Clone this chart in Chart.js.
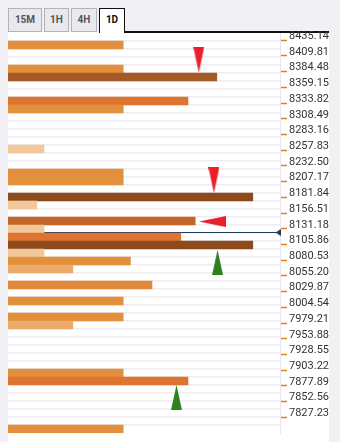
<!DOCTYPE html>
<html>
<head>
<meta charset="utf-8">
<script src="https://cdn.jsdelivr.net/npm/chart.js@4.4.0/dist/chart.umd.min.js"></script>
<style>
    body { margin: 0; width: 340px; height: 442px; overflow: hidden; background: #f0f0f5; position: relative; font-family: Roboto, sans-serif; }
    #panel { position: absolute; left: 8px; top: 32px; width: 321px; height: 410px; background: #fff; }
    .tab { position: absolute; top: 8px; height: 24px; box-sizing: border-box; border: 1px solid #b4b4bc; background: #e8e8ee;
           font: bold 10px Roboto, sans-serif; color: #555; text-align: center; line-height: 22px; }
    .tab.active { background: #fff; border: 1.5px solid #111; border-bottom: none; color: #111; height: 25px; }
    #tabLine { position: absolute; left: 124px; top: 31px; width: 205px; height: 1.5px; background: #111; }
    #wrap { position: absolute; left: 0; top: 20px; }
</style>
</head>
<body>
<div id="panel"></div>
<div class="tab" style="left:8px;width:34px">15M</div>
<div class="tab" style="left:44px;width:25px">1H</div>
<div class="tab" style="left:71px;width:26px">4H</div>
<div class="tab active" style="left:99px;width:26px">1D</div>
<div id="tabLine"></div>
<div id="wrap"><canvas id="miGrafico" width="330" height="422"></canvas></div>
<script>
// one value per row, top row first (null = no confluence)
const barValues = [
    null, 16, null, null, 16, 29, null, null, 25, 16,
    null, null, null, null, 5, null, null, 16, 16, null,
    34, 4, null, 26, 5, 24, 34, 5, 17, 9,
    null, 20, null, 16, null, 16, 9, null, null, null,
    null, null, 16, 25, null, null, null, null, null, 16
];
const tickLabels = [
    8435.14, 8409.81, 8384.48, 8359.15, 8333.82, 8308.49, 8283.16, 8257.83, 8232.50,
    8207.17, 8181.84, 8156.51, 8131.18, 8105.86, 8080.53, 8055.20, 8029.87, 8004.54,
    7979.21, 7953.88, 7928.55, 7903.22, 7877.89, 7852.56, 7827.23
];
const priceTop = 8446.74;
const priceBottom = 7802.10;
const currentPrice = 8125.23;
const xMax = 37.78;

// signal arrows: x = strength, y = price
const redDown = [{x: 26.5, y: 8403.71}, {x: 28.6, y: 8209.51}];
const redLeft = [{x: 28.4, y: 8142.95}];
const greenUp = [{x: 29.1, y: 8076.88}, {x: 23.4, y: 7859.31}];

function barColor(v) {
    if (v <= 5) return '#f2c89a';
    if (v <= 9) return '#ebaa6a';
    if (v <= 17) return '#e3903c';
    if (v <= 20) return '#e2883a';
    if (v <= 25) return '#de7430';
    if (v <= 26) return '#c4652a';
    if (v <= 29) return '#a55a26';
    return '#8c4a1d';
}

function makeTriangle(w, h, color, dir) {
    const c = document.createElement('canvas');
    c.width = w;
    c.height = h;
    const g = c.getContext('2d');
    g.fillStyle = color;
    g.beginPath();
    if (dir === 'down') { g.moveTo(0, 0); g.lineTo(w, 0); g.lineTo(w / 2, h); }
    else if (dir === 'up') { g.moveTo(w / 2, 0); g.lineTo(w, h); g.lineTo(0, h); }
    else { g.moveTo(0, h / 2); g.lineTo(w, 0); g.lineTo(w, h); }
    g.closePath();
    g.fill();
    return c;
}

function getChartConfig(values, ticks) {
    return {
        type: 'bar',
        data: {
            labels: values.map((v, i) => i),
            datasets: [
                {
                    type: 'line',
                    data: [{x: 0, y: currentPrice}, {x: xMax, y: currentPrice}],
                    xAxisID: 'x', yAxisID: 'yp',
                    borderColor: '#22385e', borderWidth: 1.2, pointRadius: 0, order: 3
                },
                {
                    type: 'bar',
                    indexAxis: 'y',
                    data: values,
                    xAxisID: 'x', yAxisID: 'y',
                    backgroundColor: ctx => barColor(ctx.raw),
                    barPercentage: 1, categoryPercentage: 1, borderWidth: 0, order: 2
                },
                {
                    type: 'scatter',
                    data: [{x: 37.53, y: currentPrice}],
                    xAxisID: 'x', yAxisID: 'yp',
                    pointStyle: makeTriangle(5, 7, '#22385e', 'left'), pointRadius: 4, clip: false, order: 1
                },
                {
                    type: 'scatter', data: redDown, xAxisID: 'x', yAxisID: 'yp',
                    pointStyle: makeTriangle(11, 26, '#e8202a', 'down'), pointRadius: 5, order: 0
                },
                {
                    type: 'scatter', data: redLeft, xAxisID: 'x', yAxisID: 'yp',
                    pointStyle: makeTriangle(27, 11, '#e8202a', 'left'), pointRadius: 5, order: 0
                },
                {
                    type: 'scatter', data: greenUp, xAxisID: 'x', yAxisID: 'yp',
                    pointStyle: makeTriangle(11, 25, '#2d821e', 'up'), pointRadius: 5, order: 0
                }
            ]
        },
        options: {
            responsive: false,
            animation: false,
            layout: { padding: { left: 8, top: 13, bottom: 9, right: 0 } },
            plugins: { legend: { display: false }, tooltip: { enabled: false } },
            scales: {
                x: { type: 'linear', min: 0, max: xMax, offset: false, grid: { offset: false }, display: false },
                y: {
                    type: 'category',
                    position: 'left',
                    offset: true,
                    grid: {
                        offset: true, drawTicks: false, lineWidth: 1.5,
                        color: c => (c.index > 0 ? '#ededf3' : 'rgba(0,0,0,0)')
                    },
                    border: { display: false },
                    ticks: { display: false },
                    afterFit: s => { s.width = 0; }
                },
                yp: {
                    type: 'linear',
                    position: 'right',
                    min: priceBottom,
                    max: priceTop,
                    afterBuildTicks: s => { s.ticks = ticks.map(v => ({ value: v })); },
                    afterFit: s => { s.width = 50; },
                    grid: { drawOnChartArea: false, tickLength: 7, tickColor: '#e67e22', tickWidth: 1.5 },
                    border: { display: true, color: '#e6e6ec', width: 1 },
                    ticks: {
                        padding: 2,
                        labelOffset: -4,
                        color: '#333',
                        font: { family: 'Roboto', size: 11 },
                        callback: v => v.toFixed(2)
                    }
                }
            }
        }
    };
}

document.addEventListener('DOMContentLoaded', function() {
    const grafico = new Chart(document.getElementById('miGrafico'), getChartConfig(barValues, tickLabels));
});
</script>
</body>
</html>
